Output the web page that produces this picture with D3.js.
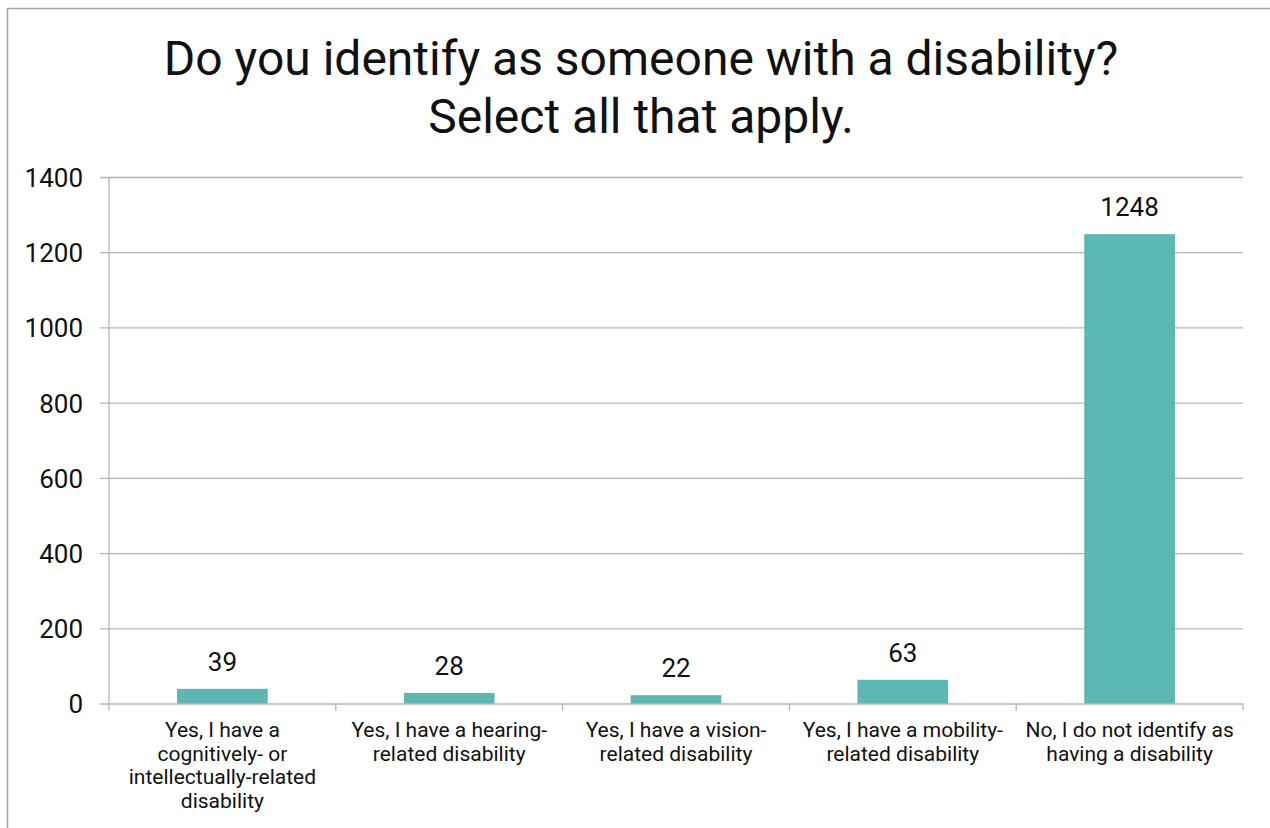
<!DOCTYPE html>
<html>
<head>
<meta charset="utf-8">
<script src="https://cdn.jsdelivr.net/npm/d3@7"></script>
<style>
  html, body { margin: 0; padding: 0; background: #fff; }
  svg { display: block; font-family: Roboto, "Noto Sans", sans-serif; }
</style>
</head>
<body>
<svg id="chart" width="1270" height="828"></svg>
<script>
// Survey responses: disability self-identification (multiple answers allowed)
const titleLines = ["Do you identify as someone with a disability?", "Select all that apply."];
const categories = [
  "Yes, I have a\ncognitively- or\nintellectually-related\ndisability",
  "Yes, I have a hearing-\nrelated disability",
  "Yes, I have a vision-\nrelated disability",
  "Yes, I have a mobility-\nrelated disability",
  "No, I do not identify as\nhaving a disability"
];
const counts = [39, 28, 22, 63, 1248];
const yTicks = [0, 200, 400, 600, 800, 1000, 1200, 1400];

const svg = d3.select("#chart");
const W = 1270, H = 828;
const plot = { left: 109, right: 1243, top: 177, bottom: 703.5 };
const textColor = "#111";
const gridColor = "#b4b4b4";
const barColor = "#5cb8b2";

// outer frame of the chart area
svg.append("rect")
  .attr("x", 7.5).attr("y", 8.5)
  .attr("width", W).attr("height", H)
  .attr("fill", "#fff")
  .attr("stroke", "#a6a6a6").attr("stroke-width", 1.5);

// title
svg.append("g").selectAll("text")
  .data(titleLines).join("text")
  .attr("x", 641)
  .attr("y", (d, i) => 75 + i * 58)
  .attr("text-anchor", "middle")
  .attr("font-size", 48)
  .attr("fill", textColor)
  .text(d => d);

const x = d3.scaleBand()
  .domain(categories)
  .range([plot.left, plot.right])
  .paddingInner(0.6).paddingOuter(0.3);

const xGroups = d3.scaleBand()
  .domain(categories)
  .range([plot.left, plot.right])
  .padding(0);

const y = d3.scaleLinear()
  .domain([0, 1400])
  .range([plot.bottom, plot.top]);

// horizontal gridlines + y tick labels
const yAxis = d3.axisLeft(y)
  .tickValues(yTicks)
  .tickSize(-(plot.right - plot.left))
  .tickPadding(18)
  .tickFormat(d3.format("d"));

const gy = svg.append("g")
  .attr("transform", `translate(${plot.left},0)`)
  .call(yAxis);
gy.select(".domain").remove();
gy.selectAll(".tick line")
  .attr("stroke", gridColor).attr("stroke-width", 1.3)
  .attr("x1", -9);
gy.selectAll(".tick text")
  .attr("font-size", 26)
  .attr("font-family", "Roboto, sans-serif")
  .attr("fill", textColor)
  .attr("x", -26)
  .attr("dy", "0.36em");

// vertical axis line
svg.append("line")
  .attr("x1", plot.left).attr("x2", plot.left)
  .attr("y1", plot.top).attr("y2", plot.bottom)
  .attr("stroke", gridColor).attr("stroke-width", 1.3);

// category boundary tick marks below the baseline
const bounds = categories.map(c => xGroups(c)).concat([plot.right]);
svg.append("g").selectAll("line")
  .data(bounds).join("line")
  .attr("x1", d => d).attr("x2", d => d)
  .attr("y1", plot.bottom).attr("y2", plot.bottom + 7)
  .attr("stroke", gridColor).attr("stroke-width", 1.3);

// bars
svg.append("g").selectAll("rect")
  .data(counts).join("rect")
  .attr("x", (d, i) => x(categories[i]))
  .attr("width", x.bandwidth())
  .attr("y", d => y(d))
  .attr("height", d => y(0) - y(d))
  .attr("fill", barColor);

// value labels
svg.append("g").selectAll("text")
  .data(counts).join("text")
  .attr("x", (d, i) => x(categories[i]) + x.bandwidth() / 2)
  .attr("y", d => y(d) - 18)
  .attr("text-anchor", "middle")
  .attr("font-size", 26)
  .attr("fill", textColor)
  .text(d => d);

// category labels (multi-line)
const cl = svg.append("g").selectAll("text")
  .data(categories).join("text")
  .attr("x", d => xGroups(d) + xGroups.bandwidth() / 2)
  .attr("y", 737)
  .attr("text-anchor", "middle")
  .attr("font-size", 21)
  .attr("fill", textColor);
cl.selectAll("tspan")
  .data(d => d.split("\n")).join("tspan")
  .attr("x", function () { return d3.select(this.parentNode).attr("x"); })
  .attr("dy", (d, i) => i === 0 ? 0 : 23.5)
  .text(d => d);
</script>
</body>
</html>
